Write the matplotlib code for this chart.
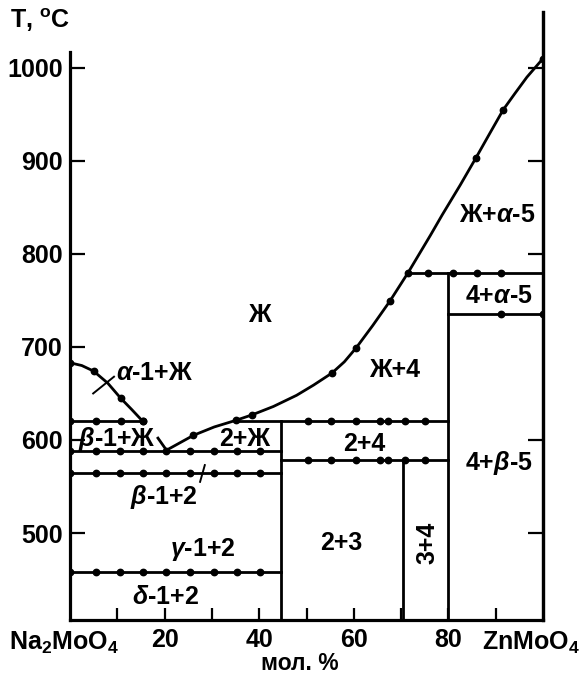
import matplotlib
matplotlib.use("Agg")
import matplotlib.pyplot as plt

plt.rcParams["font.family"] = ["Liberation Sans", "DejaVu Sans"]
plt.rcParams["font.weight"] = "bold"
plt.rcParams["mathtext.fontset"] = "custom"
plt.rcParams["mathtext.rm"] = "Liberation Sans:bold"
plt.rcParams["mathtext.bf"] = "Liberation Sans:bold"
plt.rcParams["mathtext.it"] = "Liberation Sans:italic:bold"

# ---- data: Na2MoO4 - ZnMoO4 system (mol. % ZnMoO4, temperature in C) ----
liq_left_x = [0, 2.5, 5, 8, 10.7, 13, 15.4]
liq_left_t = [683, 680, 674, 661, 645, 633, 620]
liq_left_dots_x = [0, 5, 10.7, 15.4]
liq_left_dots_t = [683, 674, 645, 620]

liq_tail_x = [18.6, 20.4]
liq_tail_t = [602, 589]

liq_right_x = [20.4, 26.1, 30.5, 35, 38.5, 43, 47.9, 51.5, 55.4, 58, 60.5, 64,
               67.6, 71.5, 76.2, 78.7, 82.5, 85.8, 88.8, 91.6, 94, 96.6, 100]
liq_right_t = [589, 605, 614, 621, 627, 636, 648, 659, 672, 684, 699, 723,
               749, 780, 820, 842, 874, 903, 930, 955, 972, 990, 1010]
liq_right_dots_x = [26.1, 35, 38.5, 55.4, 60.5, 67.6, 71.5, 85.8, 91.6, 100]
liq_right_dots_t = [605, 621, 627, 672, 699, 749, 780, 903, 955, 1010]

# invariant (horizontal) lines: temperature, x start, x end, thermal-effect points
left_pts = [0, 5.4, 10.5, 15.4, 20.4, 25.4, 30.4, 35.4, 40.1]
mid_pts = [50.4, 55.2, 60.5, 65.5, 67.2, 70.8, 75.1]
iso_t = [620, 620, 588, 564, 458, 578, 780, 735]
iso_x0 = [0, 35, 0, 0, 0, 44.7, 71.5, 80]
iso_x1 = [15.4, 80, 44.7, 44.7, 44.7, 80, 100, 100]
iso_dots = [[0, 5.4, 10.7, 15.4],
            mid_pts,
            left_pts,
            left_pts,
            left_pts,
            mid_pts,
            [75.7, 81, 86, 91.2],
            [91.2, 100]]

# vertical phase boundaries: composition, upper temperature
vert_x = [44.7, 70.3, 80]
vert_top = [620, 578, 780]

# short leader strokes
leaders = [((4.9, 9.3), (650, 668)), ((28.5, 27.5), (573, 555))]

# field labels: text, x, T, rotation
fields = [
    ("Ж", 40.1, 734, 0),
    (r"$\alpha$-1+Ж", 17.9, 672, 0),
    (r"$\beta$-1+Ж", 9.9, 601, 0),
    ("2+Ж", 37.0, 601, 0),
    (r"$\beta$-1+2", 19.8, 539, 0),
    (r"$\gamma$-1+2", 28.1, 482, 0),
    (r"$\delta$-1+2", 20.2, 431, 0),
    ("Ж+4", 68.7, 675, 0),
    ("2+4", 62.3, 596, 0),
    ("2+3", 57.4, 489, 0),
    ("3+4", 75.5, 489, 90),
    (r"4+$\beta$-5", 90.6, 575, 0),
    (r"4+$\alpha$-5", 90.6, 755, 0),
    (r"Ж+$\alpha$-5", 90.4, 842, 0),
]

x_ticks = [10, 20, 30, 40, 50, 60, 70, 80, 90]
x_ticklabels = ["", "20", "", "40", "", "60", "", "80", ""]
y_ticks = [500, 600, 700, 800, 900, 1000]
y_right_ticks = [500, 600, 800, 900, 1000]

# ---- figure ----
W, H = 582, 675
fig = plt.figure(figsize=(W / 100, H / 100), dpi=100)
ax = fig.add_axes([70 / W, 1 - 620 / H, 473 / W, 608 / H])
ax.set_xlim(0, 100)
ax.set_ylim(406.5, 1060)

lw = 2.0
ms = 4.6
k = "black"
fs = 18

ax.plot(liq_left_x, liq_left_t, color=k, lw=lw, solid_capstyle="round")
ax.plot(liq_left_dots_x, liq_left_dots_t, "o", color=k, ms=ms)
ax.plot(liq_tail_x, liq_tail_t, color=k, lw=lw)
ax.plot(liq_right_x, liq_right_t, color=k, lw=lw, solid_joinstyle="round")
ax.plot(liq_right_dots_x, liq_right_dots_t, "o", color=k, ms=ms)

for t, a, b, dots in zip(iso_t, iso_x0, iso_x1, iso_dots):
    ax.plot([a, b], [t, t], color=k, lw=lw)
    ax.plot(dots, [t] * len(dots), "o", color=k, ms=ms)

for xv, top in zip(vert_x, vert_top):
    ax.plot([xv, xv], [406.5, top], color=k, lw=lw)

for xs, ts in leaders:
    ax.plot(xs, ts, color=k, lw=1.4)

for txt, xv, tv, rot in fields:
    ax.text(xv, tv, txt, fontsize=fs, fontweight="bold", ha="center",
            va="center", rotation=rot)

# axes frame
for side in ("left", "right", "bottom"):
    ax.spines[side].set_linewidth(2.3)
ax.spines["top"].set_visible(False)
ax.spines["left"].set_bounds(406.5, 1017)

ax.set_xticks(x_ticks)
ax.set_xticklabels(x_ticklabels)
ax.set_yticks(y_ticks)
ax.set_yticklabels([str(v) for v in y_ticks])
ax.tick_params(axis="x", direction="in", length=9, width=1.6, pad=6,
               labelsize=fs)
ax.tick_params(axis="y", direction="in", length=11, width=1.6, pad=5,
               labelsize=fs, left=True, right=False)
for lab in ax.get_xticklabels() + ax.get_yticklabels():
    lab.set_fontweight("bold")

sec = ax.secondary_yaxis("right")
sec.set_yticks(y_right_ticks)
sec.set_yticklabels([])
sec.tick_params(direction="in", length=11, width=1.6)
sec.spines["right"].set_linewidth(2.3)

# end-member and axis captions
fig.text(64 / W, 1 - 650 / H, r"Na$_\mathrm{2}$MoO$_\mathrm{4}$", fontsize=fs,
         fontweight="bold", ha="center", va="baseline")
fig.text(531 / W, 1 - 650 / H, r"ZnMoO$_\mathrm{4}$", fontsize=fs,
         fontweight="bold", ha="center", va="baseline")
fig.text(300 / W, 1 - 670 / H, "мол. %", fontsize=16.5, fontweight="bold",
         ha="center", va="baseline")
fig.text(10 / W, 1 - 28 / H, r"T, $^\mathrm{o}$C", fontsize=fs,
         fontweight="bold", ha="left", va="baseline")

fig.savefig("out.png", dpi=100)
